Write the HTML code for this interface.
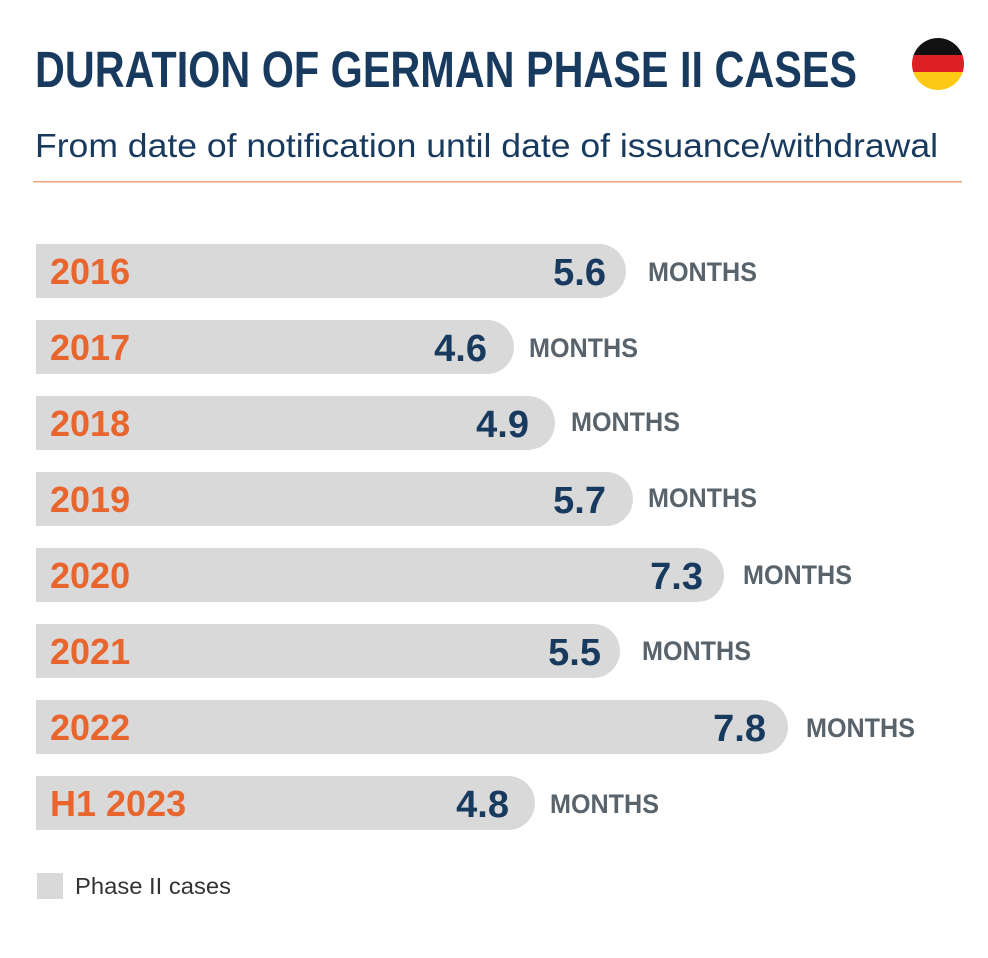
<!DOCTYPE html>
<html><head><meta charset="utf-8"><style>
html,body{margin:0;padding:0;background:#fff;}
svg{display:block;}
text{font-family:"Liberation Sans Narrow","Liberation Sans",sans-serif;}
</style></head><body>
<svg width="988" height="958" viewBox="0 0 988 958" xmlns="http://www.w3.org/2000/svg">
<text x="35" y="87" font-size="51" font-weight="bold" fill="#173a5e" textLength="822" lengthAdjust="spacingAndGlyphs">DURATION OF GERMAN PHASE II CASES</text>
<defs><clipPath id="c"><circle cx="938" cy="64" r="26"/></clipPath></defs>
<g clip-path="url(#c)">
<rect x="910" y="38" width="56" height="18" fill="#111"/>
<rect x="910" y="55" width="56" height="18" fill="#dd1f26"/>
<rect x="910" y="72" width="56" height="20" fill="#fdc916"/>
</g>
<text x="35" y="157" font-size="33" fill="#173a5e" textLength="903" lengthAdjust="spacingAndGlyphs">From date of notification until date of issuance/withdrawal</text>
<rect x="33" y="181" width="929" height="1.5" fill="#eea17f"/>
<g font-weight="bold">
<g fill="#d9d9d9">
<path d="M36 244H599A27 27 0 0 1 599 298H36Z"/>
<path d="M36 320H487A27 27 0 0 1 487 374H36Z"/>
<path d="M36 396H528A27 27 0 0 1 528 450H36Z"/>
<path d="M36 472H606A27 27 0 0 1 606 526H36Z"/>
<path d="M36 548H697A27 27 0 0 1 697 602H36Z"/>
<path d="M36 624H593A27 27 0 0 1 593 678H36Z"/>
<path d="M36 700H761A27 27 0 0 1 761 754H36Z"/>
<path d="M36 776H508A27 27 0 0 1 508 830H36Z"/>
</g>
<g fill="#e8652e" font-size="36">
<text x="50" y="284">2016</text>
<text x="50" y="360">2017</text>
<text x="50" y="436">2018</text>
<text x="50" y="512">2019</text>
<text x="50" y="588">2020</text>
<text x="50" y="664">2021</text>
<text x="50" y="740">2022</text>
<text x="50" y="816">H1 2023</text>
</g>
<g fill="#173a5e" font-size="38" text-anchor="end">
<text x="606" y="285">5.6</text>
<text x="487" y="361">4.6</text>
<text x="529" y="437">4.9</text>
<text x="606" y="513">5.7</text>
<text x="703" y="589">7.3</text>
<text x="601" y="665">5.5</text>
<text x="766" y="741">7.8</text>
<text x="509" y="817">4.8</text>
</g>
<g fill="#59636c" font-size="27">
<text x="648" y="281" textLength="109" lengthAdjust="spacingAndGlyphs">MONTHS</text>
<text x="529" y="357" textLength="109" lengthAdjust="spacingAndGlyphs">MONTHS</text>
<text x="571" y="431" textLength="109" lengthAdjust="spacingAndGlyphs">MONTHS</text>
<text x="648" y="507" textLength="109" lengthAdjust="spacingAndGlyphs">MONTHS</text>
<text x="743" y="584" textLength="109" lengthAdjust="spacingAndGlyphs">MONTHS</text>
<text x="642" y="660" textLength="109" lengthAdjust="spacingAndGlyphs">MONTHS</text>
<text x="806" y="737" textLength="109" lengthAdjust="spacingAndGlyphs">MONTHS</text>
<text x="550" y="813" textLength="109" lengthAdjust="spacingAndGlyphs">MONTHS</text>
</g>
</g>
<rect x="37" y="873" width="26" height="26" fill="#d9d9d9"/>
<text x="75" y="894" font-size="23" fill="#333" style="font-family:'Liberation Sans',sans-serif" textLength="156" lengthAdjust="spacingAndGlyphs">Phase II cases</text>
</svg>
</body></html>
